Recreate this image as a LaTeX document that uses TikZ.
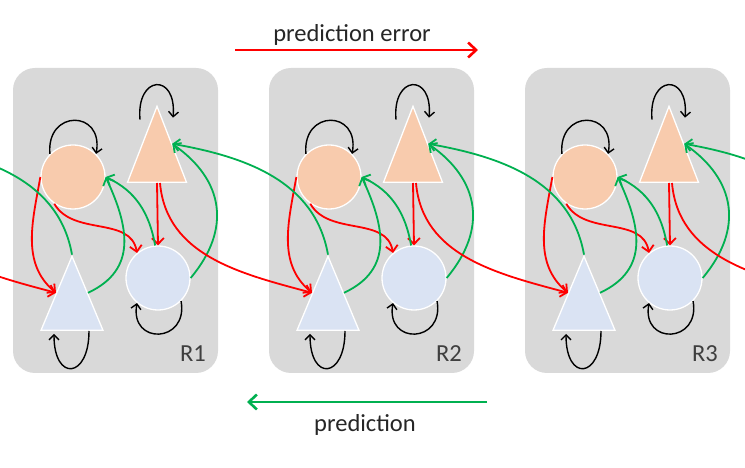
\documentclass[tikz,border=0pt]{standalone}
\usepackage{fontspec}
\setmainfont{Carlito}
\usetikzlibrary{arrows.meta,shapes.geometric}
\definecolor{boxgray}{HTML}{D9D9D9}
\definecolor{peach}{HTML}{F8CBAD}
\definecolor{paleblue}{HTML}{DAE3F3}
\definecolor{errred}{HTML}{FF0000}
\definecolor{predgreen}{HTML}{00B050}
\definecolor{inkgray}{HTML}{3F3F3F}
\tikzset{region/.style={fill=boxgray,rounded corners=22pt,minimum width=205pt,minimum height=305pt,inner sep=0pt},
  circ/.style={circle,draw=white,line width=1.3pt,minimum size=64pt,inner sep=0pt},
  tri/.style={isosceles triangle,isosceles triangle stretches,shape border rotate=90,draw=white,line width=1.3pt,inner sep=0pt,anchor=south},
  selfloop/.style={black,line width=1.4pt,-{Straight Barb[length=5pt,width=10pt]}},
  err/.style={errred,line width=1.8pt,-{Straight Barb[length=6pt,width=12pt]}},
  pred/.style={predgreen,line width=1.8pt,-{Straight Barb[length=6pt,width=12pt]}},
  lbl/.style={font=\fontsize{24.5}{29}\selectfont,anchor=base}}
\begin{document}
\begin{tikzpicture}[x=1pt,y=1pt]
\useasboundingbox (0,0) rectangle (745,468);
\clip (0,0) rectangle (745,468);
\foreach \n in {1,2,3}{%
  \pgfmathsetmacro{\L}{13+256*(\n-1)}
  \node[region] (box\n) at (\L+102.5,247.5) {};
  \node[circ,fill=peach] (tc\n) at (\L+60,291) {};
  \node[tri,fill=peach,minimum width=59pt,minimum height=76pt] (tt\n) at (\L+144,285) {};
  \node[circ,fill=paleblue] (bc\n) at (\L+145,190) {};
  \node[tri,fill=paleblue,minimum width=62pt,minimum height=74pt] (bt\n) at (\L+59,137) {};
  \node[lbl,text=inkgray] (name\n) at (\L+180,106) {R\n};}
% off-page ends of the links to the neighbours
\coordinate (tt0) at (-99,285);
\coordinate (tt0e) at (-84,323);
\coordinate (bt4w) at (824,174);
\coordinate (bt4n) at (840,211);
\foreach \n in {1,2,3}{%
  \draw[selfloop] (tc\n.135) to[out=95,in=80,looseness=2.5] (tc\n.45);
  \draw[selfloop] ([xshift=-17pt,yshift=-15pt]tt\n.apex) to[out=95,in=85,looseness=3.5] ([xshift=16pt,yshift=-13pt]tt\n.apex);
  \draw[selfloop] (bc\n.-45) to[out=-80,in=-100,looseness=2.5] (bc\n.-130);
  \draw[selfloop] ([xshift=17pt]bt\n.south) to[out=-90,in=-90,looseness=3.5] ([xshift=-18pt,yshift=-3pt]bt\n.south);
  \draw[err] (tc\n.west) to[out=-100,in=140] (bt\n.left side);
  \draw[err] (tc\n.235) to[out=-60,in=100] (bc\n.130);
  \draw[err] (tt\n.south) -- (bc\n.north);
  \draw[pred] (bt\n.right side) to[out=25,in=-65,looseness=1.2] (tc\n.east);
  \draw[pred] (bc\n.95) to[out=100,in=-25] (tc\n.east);
  \draw[pred] (bc\n.east) to[out=50,in=-35,looseness=1.2] (tt\n.right side);}
\draw[err] ([xshift=3pt]tt0) to[out=-85,in=165] (bt1.left side);
\draw[err] ([xshift=3pt]tt1.south) to[out=-85,in=165] (bt2.left side);
\draw[err] ([xshift=3pt]tt2.south) to[out=-85,in=165] (bt3.left side);
\draw[err] ([xshift=3pt]tt3.south) to[out=-85,in=165] (bt4w);
\draw[pred] (bt1.apex) to[out=100,in=-10] (tt0e);
\draw[pred] (bt2.apex) to[out=100,in=-10] (tt1.right side);
\draw[pred] (bt3.apex) to[out=100,in=-10] (tt2.right side);
\draw[pred] (bt4n) to[out=100,in=-10] (tt3.right side);
% legend
\coordinate (errL) at (235,418);
\coordinate (errR) at (478,418);
\coordinate (predR) at (487,66);
\coordinate (predL) at (247,66);
\draw[err,line width=2.6pt,-{Straight Barb[length=8pt,width=15pt]}] (errL) -- (errR);
\draw[pred,line width=2.6pt,-{Straight Barb[length=8pt,width=15pt]}] (predR) -- (predL);
\node[lbl,text=black!85] (errtext) at (352,426) {prediction error};
\node[lbl,text=black!85] (predtext) at (365,36) {prediction};
\end{tikzpicture}
\end{document}
